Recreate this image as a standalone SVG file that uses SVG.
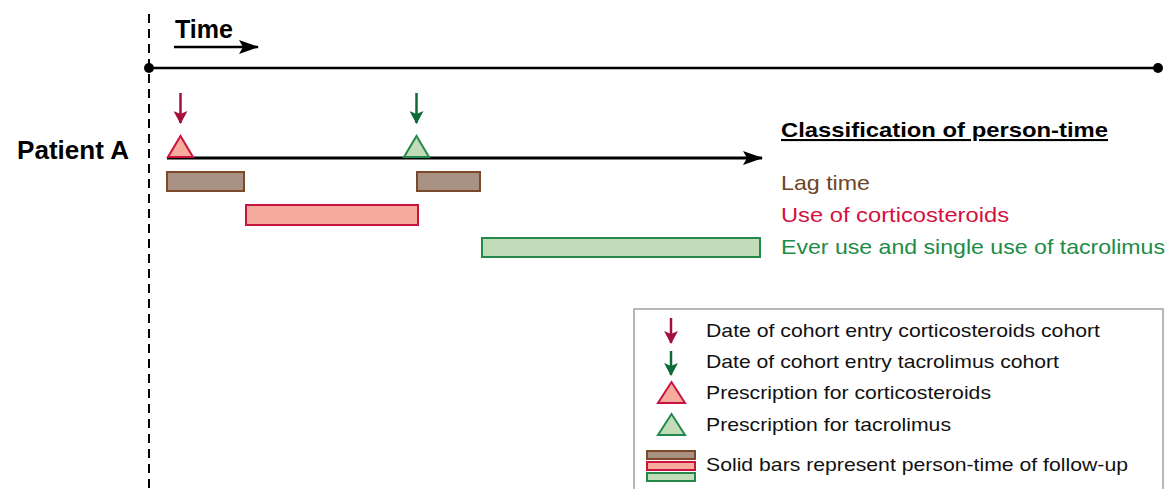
<svg xmlns="http://www.w3.org/2000/svg" width="1172" height="489" viewBox="0 0 1172 489">
<defs>
<style>
text{font-family:"Liberation Sans",Arial,sans-serif}
.b{font-weight:bold;fill:#000}
.brown{fill:#a89183;stroke:#7b4a2b;stroke-width:2}
.red{fill:#f6ab9c;stroke:#c8143f;stroke-width:2}
.green{fill:#c2dcb9;stroke:#24894a;stroke-width:2}
.lg{font-size:19px;fill:#111}
.cl{font-size:21px}
</style>
<marker id="ahb" markerWidth="20" markerHeight="14" refX="19" refY="7" orient="auto" markerUnits="userSpaceOnUse"><path d="M0,0 L20,7 L0,14 L4,7 z" fill="#000"/></marker>
<marker id="ahr" markerWidth="13" markerHeight="14" refX="12" refY="7" orient="auto" markerUnits="userSpaceOnUse"><path d="M0,0 L13,7 L0,14 L3,7 z" fill="#a50f3c"/></marker>
<marker id="ahg" markerWidth="13" markerHeight="14" refX="12" refY="7" orient="auto" markerUnits="userSpaceOnUse"><path d="M0,0 L13,7 L0,14 L3,7 z" fill="#0d6b37"/></marker>
</defs>
<rect width="1172" height="489" fill="#fff"/>
<g id="axis">
<line x1="149" y1="14" x2="149" y2="489" stroke="#000" stroke-width="2" stroke-dasharray="9,6"/>
<line x1="149" y1="68" x2="1158" y2="68" stroke="#000" stroke-width="2.5"/>
<circle cx="149" cy="68" r="5"/>
<circle cx="1158" cy="68" r="5"/>
<text x="175" y="38" class="b" font-size="25" textLength="58" lengthAdjust="spacingAndGlyphs">Time</text>
<line x1="174" y1="47" x2="258" y2="47" stroke="#000" stroke-width="2.5" marker-end="url(#ahb)"/>
</g>
<g id="patientA">
<text x="17" y="159" class="b" font-size="25" textLength="112" lengthAdjust="spacingAndGlyphs">Patient A</text>
</g>
<g id="connectors">
<line x1="167" y1="158" x2="762" y2="158" stroke="#000" stroke-width="3" marker-end="url(#ahb)"/>
<line x1="180.5" y1="93" x2="180.5" y2="123" stroke="#a50f3c" stroke-width="2.5" marker-end="url(#ahr)"/>
<line x1="416.5" y1="93" x2="416.5" y2="123" stroke="#0d6b37" stroke-width="2.5" marker-end="url(#ahg)"/>
</g>
<g id="tri-cort"><polygon points="168,157 193,157 180.5,136" class="red"/></g>
<g id="tri-tac"><polygon points="404,157 429,157 416.5,136" class="green"/></g>
<g id="bars">
<rect x="167" y="172" width="77" height="19" class="brown"/>
<rect x="417" y="172" width="63" height="19" class="brown"/>
<rect x="246" y="205" width="172" height="20" class="red"/>
<rect x="482" y="238" width="278" height="19" class="green"/>
</g>
<g id="classification">
<text x="781" y="137" class="b cl" text-decoration="underline" textLength="327" lengthAdjust="spacingAndGlyphs">Classification of person-time</text>
<text x="781" y="190" class="cl" fill="#6e4428" textLength="89" lengthAdjust="spacingAndGlyphs">Lag time</text>
<text x="781" y="222" class="cl" fill="#d4103f" textLength="228" lengthAdjust="spacingAndGlyphs">Use of corticosteroids</text>
<text x="781" y="254" class="cl" fill="#1e8c46" textLength="384" lengthAdjust="spacingAndGlyphs">Ever use and single use of tacrolimus</text>
</g>
<g id="legend">
<rect x="634" y="309" width="529" height="185" fill="#fff" stroke="#a0a0a0" stroke-width="1.5"/>
<line x1="671" y1="318" x2="671" y2="343" stroke="#a50f3c" stroke-width="2.5" marker-end="url(#ahr)"/>
<text x="706" y="337" class="lg" textLength="394" lengthAdjust="spacingAndGlyphs">Date of cohort entry corticosteroids cohort</text>
<line x1="671" y1="351" x2="671" y2="375" stroke="#0d6b37" stroke-width="2.5" marker-end="url(#ahg)"/>
<text x="706" y="368" class="lg" textLength="353" lengthAdjust="spacingAndGlyphs">Date of cohort entry tacrolimus cohort</text>
<polygon points="658,403 685,403 671.5,382" class="red"/>
<text x="706" y="399" class="lg" textLength="285" lengthAdjust="spacingAndGlyphs">Prescription for corticosteroids</text>
<polygon points="658,435 685,435 671.5,414" class="green"/>
<text x="706" y="431" class="lg" textLength="245" lengthAdjust="spacingAndGlyphs">Prescription for tacrolimus</text>
<rect x="647" y="451" width="48" height="8" class="brown"/>
<rect x="647" y="462" width="48" height="8" class="red"/>
<rect x="647" y="473" width="48" height="8" class="green"/>
<text x="706" y="471" class="lg" textLength="422" lengthAdjust="spacingAndGlyphs">Solid bars represent person-time of follow-up</text>
</g>
</svg>
